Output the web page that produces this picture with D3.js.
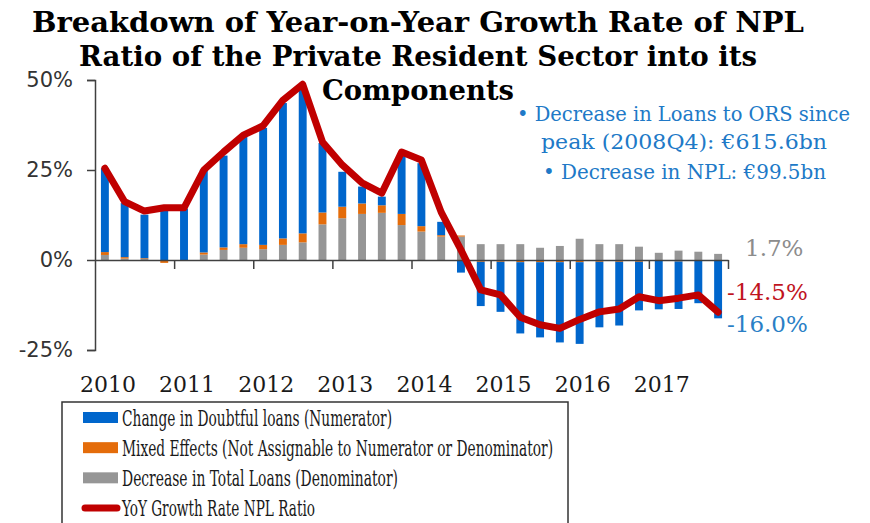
<!DOCTYPE html>
<html>
<head>
<meta charset="utf-8">
<script src="https://cdn.jsdelivr.net/npm/d3@7"></script>
<style>
  html, body { margin: 0; padding: 0; background: #fff; }
  svg { display: block; }
</style>
</head>
<body>
<svg id="chart" width="870" height="523"></svg>
<script>
// Quarterly breakdown, 2010Q1 – 2017Q4 (percentage points of YoY NPL ratio growth)
const years = [2010, 2011, 2012, 2013, 2014, 2015, 2016, 2017];
const quarters = years.flatMap(y => ["Q1", "Q2", "Q3", "Q4"].map(q => `${y}${q}`));

const doubtfulLoans = [23.3, 15.0, 12.1, 14.0, 14.3, 23.0, 25.5, 29.9,
                       32.5, 37.6, 40.4, 19.3, 9.7, 4.7, 2.4, 16.9,
                       17.5, 3.7, -3.5, -12.3, -13.9, -19.8, -20.9, -22.3,
                       -22.7, -18.2, -17.7, -13.5, -13.6, -13.2, -11.9, -16.0];
const mixedEffects = [0.8, 0.4, 0.2, -0.8, 0.0, 0.6, 0.7, 1.0,
                      1.2, 1.8, 2.5, 3.3, 3.2, 2.9, 2.1, 3.1,
                      1.5, 0.4, 0.3, -0.5, -0.5, -0.6, -0.6, -0.6,
                      -0.6, -0.5, -0.5, -0.5, -0.1, -0.4, -0.1, -0.2];
const totalLoans = [1.4, 0.4, 0.3, 0.0, 0.0, 1.5, 2.8, 3.4,
                    3.0, 4.2, 4.9, 9.9, 11.6, 12.8, 13.1, 9.7,
                    7.9, 6.5, 6.5, 4.4, 4.4, 4.4, 3.4, 3.9,
                    5.9, 4.4, 4.4, 3.7, 2.0, 2.6, 2.3, 1.7];
const nplGrowth = [25.5, 16.2, 13.6, 14.5, 14.5, 25.0, 30.0, 34.7,
                   37.3, 44.4, 48.8, 32.8, 26.4, 21.4, 18.6, 30.0,
                   27.8, 13.3, 2.8, -8.3, -9.7, -15.9, -18.0, -19.0,
                   -16.5, -14.4, -13.6, -10.2, -11.3, -10.6, -9.7, -14.5];
const yTicks = [-25, 0, 25, 50];

const seriesNames = [
  "Change in Doubtful loans (Numerator)",
  "Mixed Effects (Not Assignable to Numerator or Denominator)",
  "Decrease in Total Loans (Denominator)",
  "YoY Growth Rate NPL Ratio"
];
const colors = { doubtful: "#0066CC", mixed: "#E46C0A", loans: "#969696", npl: "#C00000" };

const svg = d3.select("#chart");
const serifWide = "'DejaVu Serif', serif";

function fit(sel, width) {
  sel.attr("textLength", width).attr("lengthAdjust", "spacingAndGlyphs");
}

// Scales
const plot = { left: 95, right: 728, top: 80, bottom: 350 };
const x = d3.scaleBand().domain(quarters).range([plot.left, plot.right]).paddingInner(0.6).paddingOuter(0.3);
const xIdx = d3.scaleLinear().domain([0, quarters.length]).range([plot.left, plot.right]);
const y = d3.scaleLinear().domain([-25, 50]).range([plot.bottom, plot.top]);

// Stacked components (positives up, negatives down)
const rows = quarters.map((q, i) => ({ q, loans: totalLoans[i], mixed: mixedEffects[i], doubtful: doubtfulLoans[i] }));
const stack = d3.stack().keys(["loans", "mixed", "doubtful"]).offset(d3.stackOffsetDiverging);
const layers = stack(rows);

svg.append("g").selectAll("g").data(layers).join("g")
  .attr("fill", d => colors[d.key])
  .selectAll("rect").data(d => d).join("rect")
  .attr("x", d => x(d.data.q))
  .attr("width", x.bandwidth())
  .attr("y", d => y(Math.max(d[0], d[1])))
  .attr("height", d => Math.abs(y(d[0]) - y(d[1])));

// Y axis
const yAxis = svg.append("g").attr("transform", `translate(${plot.left},0)`)
  .call(d3.axisLeft(y).tickValues(yTicks).tickSize(8).tickSizeOuter(8).tickPadding(14)
    .tickFormat(d => d + "%"));
yAxis.selectAll("path, line").attr("stroke", "#404040").attr("stroke-width", 1.5);
yAxis.selectAll("text").attr("font-family", "'DejaVu Sans', Verdana, sans-serif")
  .attr("font-size", 21).attr("fill", "#333");

// Zero line with year separators
const xAxis = svg.append("g").attr("transform", `translate(0,${y(0)})`)
  .call(d3.axisBottom(xIdx).tickValues(d3.range(4, quarters.length + 1, 4)).tickSize(9).tickSizeOuter(0).tickFormat(""));
xAxis.selectAll("path, line").attr("stroke", "#404040").attr("stroke-width", 1.5);

// Year labels beneath the plot, on the first quarter of each year
svg.append("g").selectAll("text").data(years).join("text")
  .attr("x", d => x(`${d}Q1`) + x.bandwidth() / 2 + 3)
  .attr("y", 392)
  .attr("text-anchor", "middle")
  .attr("font-family", serifWide).attr("font-size", 22).attr("fill", "#1a1a1a")
  .text(d => d);

// NPL ratio growth line
const line = d3.line().x((d, i) => x(quarters[i]) + x.bandwidth() / 2).y(d => y(d));
svg.append("path").datum(nplGrowth)
  .attr("fill", "none").attr("stroke", colors.npl).attr("stroke-width", 7)
  .attr("stroke-linejoin", "round").attr("stroke-linecap", "round")
  .attr("d", line);

// End-of-period value labels
const last = quarters.length - 1;
const endLabels = [
  { v: totalLoans[last], color: "#8C8C8C", x: 745, y: 256 },
  { v: nplGrowth[last], color: "#C0141E", x: 727, y: 300 },
  { v: doubtfulLoans[last], color: "#2A7FC6", x: 727, y: 332 }
];
svg.append("g").selectAll("text").data(endLabels).join("text")
  .attr("x", d => d.x)
  .attr("y", d => d.y)
  .attr("font-family", serifWide).attr("font-size", 23).attr("fill", d => d.color)
  .text(d => d.v.toFixed(1) + "%");

// Title
const titleLines = [
  { t: "Breakdown of Year-on-Year Growth Rate of NPL", y: 32, w: 772 },
  { t: "Ratio of the Private Resident Sector into its", y: 66, w: 678 },
  { t: "Components", y: 100, w: 192 }
];
svg.append("g").selectAll("text").data(titleLines).join("text")
  .attr("x", 418).attr("y", d => d.y).attr("text-anchor", "middle")
  .attr("font-family", serifWide).attr("font-weight", "bold").attr("font-size", 28).attr("fill", "#000")
  .text(d => d.t)
  .each(function (d) { fit(d3.select(this), d.w); });

// Annotation
const noteColor = "#2079C7";
const notes = [
  { t: "•  Decrease in Loans to ORS since", x: 517, y: 121, w: 333 },
  { t: "peak (2008Q4): €615.6bn", x: 541, y: 149, w: 286 },
  { t: "•  Decrease in NPL: €99.5bn", x: 543, y: 179, w: 283 }
];
svg.append("g").selectAll("text").data(notes).join("text")
  .attr("x", d => d.x).attr("y", d => d.y)
  .attr("font-family", serifWide).attr("font-size", 20).attr("fill", noteColor)
  .text(d => d.t)
  .each(function (d) { fit(d3.select(this), d.w); });

// Legend
const legend = svg.append("g");
legend.append("rect").attr("x", 62).attr("y", 402).attr("width", 506).attr("height", 140)
  .attr("fill", "#fff").attr("stroke", "#333").attr("stroke-width", 1.5);
const legendItems = [
  { name: seriesNames[0], color: colors.doubtful, type: "bar", w: 270 },
  { name: seriesNames[1], color: colors.mixed, type: "bar", w: 431 },
  { name: seriesNames[2], color: colors.loans, type: "bar", w: 276 },
  { name: seriesNames[3], color: colors.npl, type: "line", w: 193 }
];
const rowY = d3.scalePoint().domain(d3.range(4)).range([417.5, 508]);
legendItems.forEach((it, i) => {
  const cy = rowY(i);
  if (it.type === "bar") {
    legend.append("rect").attr("x", 83).attr("y", cy - 5.5).attr("width", 35).attr("height", 11).attr("fill", it.color);
  } else {
    legend.append("line").attr("x1", 85).attr("x2", 117).attr("y1", cy).attr("y2", cy)
      .attr("stroke", it.color).attr("stroke-width", 7).attr("stroke-linecap", "round");
  }
  legend.append("text").attr("x", 122).attr("y", cy + 8)
    .attr("font-family", serifWide).attr("font-stretch", "condensed").attr("font-size", 22).attr("fill", "#1a1a1a")
    .text(it.name)
    .call(s => fit(s, it.w));
});
</script>
</body>
</html>
